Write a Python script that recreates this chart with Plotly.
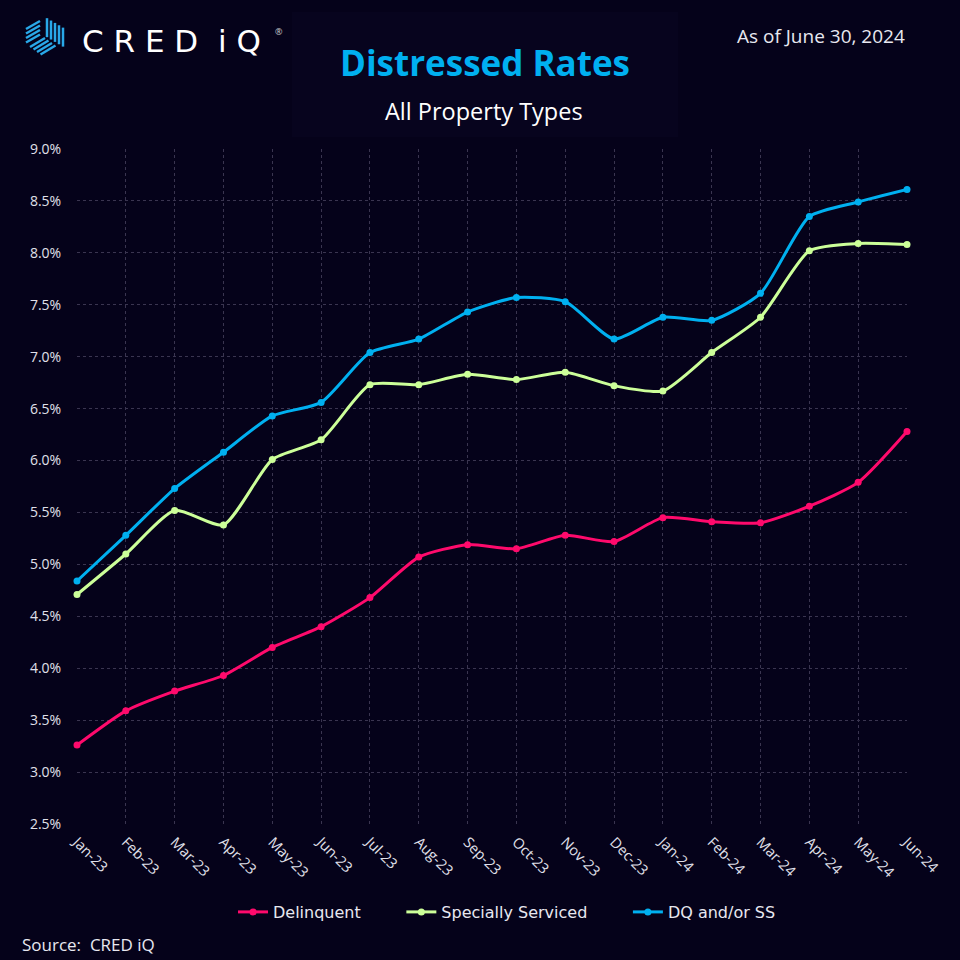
import plotly.graph_objects as go

months = ["Jan-23", "Feb-23", "Mar-23", "Apr-23", "May-23", "Jun-23", "Jul-23", "Aug-23", "Sep-23",
          "Oct-23", "Nov-23", "Dec-23", "Jan-24", "Feb-24", "Mar-24", "Apr-24", "May-24", "Jun-24"]
delinquent = [3.26, 3.59, 3.78, 3.93, 4.20, 4.40, 4.68, 5.07, 5.19, 5.15, 5.28, 5.22, 5.45, 5.41, 5.40, 5.56, 5.79, 6.28]
specially_serviced = [4.71, 5.10, 5.52, 5.38, 6.01, 6.20, 6.73, 6.73, 6.83, 6.78, 6.85, 6.72, 6.67, 7.04, 7.38, 8.02, 8.09, 8.08]
dq_or_ss = [4.84, 5.28, 5.73, 6.08, 6.43, 6.56, 7.04, 7.17, 7.43, 7.57, 7.53, 7.17, 7.38, 7.35, 7.61, 8.35, 8.49, 8.61]
y_ticks = [2.5, 3.0, 3.5, 4.0, 4.5, 5.0, 5.5, 6.0, 6.5, 7.0, 7.5, 8.0, 8.5, 9.0]

BG = "#05021a"
GRID = "#3a3550"
x_idx = list(range(len(months)))

series = [
    ("Delinquent", delinquent, "#ff0a6c"),
    ("Specially Serviced", specially_serviced, "#ccff99"),
    ("DQ and/or SS", dq_or_ss, "#00b0f0"),
]
PAD = "&nbsp;" * 7

# plot area in pixels
L, R, T, B = 77, 907, 149, 824

fig = go.Figure()
for i, (name, vals, col) in enumerate(series):
    fig.add_trace(go.Scatter(
        x=x_idx, y=vals, name=name + (PAD if i < len(series) - 1 else ""), mode="lines+markers",
        line=dict(color=col, width=3, shape="spline", smoothing=0.6),
        marker=dict(color=col, size=7),
        cliponaxis=False,
    ))

fig.update_layout(
    width=960, height=960,
    paper_bgcolor=BG, plot_bgcolor=BG,
    margin=dict(l=L, r=960 - R, t=T, b=960 - B),
    font=dict(family="Open Sans, sans-serif", color="#e8e8f0"),
    showlegend=True,
    legend=dict(orientation="h", x=(507 - L) / (R - L), xanchor="center",
                y=(B - 912) / (B - T), yanchor="middle",
                font=dict(size=16, color="#e8e8f0", family="DejaVu Sans, sans-serif"),
                bgcolor="rgba(0,0,0,0)"),
    xaxis=dict(
        range=[0, len(months) - 1], tickmode="array", tickvals=x_idx, ticktext=months,
        tickangle=45, tickfont=dict(size=14.5, color="#e0e0ea"),
        showgrid=True, gridcolor=GRID, griddash="3px,3px", gridwidth=1,
        zeroline=False, showline=False, ticks="outside", ticklen=3, tickcolor=BG,
    ),
    yaxis=dict(
        range=[2.5, 9.0], tickmode="array", tickvals=y_ticks,
        ticktext=[f"{v:.1f}%" for v in y_ticks],
        tickfont=dict(size=14, color="#e0e0ea"),
        showgrid=True, gridcolor=GRID, griddash="3px,3px", gridwidth=1,
        zeroline=False, showline=False, ticks="outside", ticklen=12, tickcolor=BG,
    ),
)


def px(xp):
    return (xp - L) / float(R - L)


def py(yp):
    return (B - yp) / float(B - T)


# subtle header panel behind title
fig.add_shape(type="rect", xref="paper", yref="paper", x0=px(292), x1=px(678), y0=py(137), y1=py(12),
              fillcolor="#07041e", line=dict(width=0), layer="below")

# title and subtitle
fig.add_annotation(text="<b>Distressed Rates</b>", xref="paper", yref="paper", x=px(485), y=py(62),
                   showarrow=False, font=dict(size=35, color="#00b0f0", family="Open Sans, sans-serif"),
                   xanchor="center", yanchor="middle")
fig.add_annotation(text="All Property Types", xref="paper", yref="paper", x=px(484), y=py(111),
                   showarrow=False, font=dict(size=23.5, color="#ffffff", family="Open Sans, sans-serif"),
                   xanchor="center", yanchor="middle")
fig.add_annotation(text="As of June 30, 2024", xref="paper", yref="paper", x=px(907), y=py(36),
                   showarrow=False, font=dict(size=19, color="#e8e8f0", family="Open Sans, sans-serif"),
                   xanchor="right", yanchor="middle")
fig.add_annotation(text="Source:  CRED iQ", xref="paper", yref="paper", x=px(20), y=py(944),
                   showarrow=False, font=dict(size=17, color="#e8e8f0", family="Open Sans, sans-serif"),
                   xanchor="left", yanchor="middle")

# logo text
fig.add_annotation(text="C R E D  i Q", xref="paper", yref="paper", x=px(80), y=py(41),
                   showarrow=False, font=dict(size=31, color="#ffffff", family="DejaVu Sans, sans-serif"),
                   xanchor="left", yanchor="middle")
fig.add_annotation(text="®", xref="paper", yref="paper", x=px(273), y=py(31),
                   showarrow=False, font=dict(size=9, color="#cccccc"),
                   xanchor="left", yanchor="middle")

# logo icon: striped cube
stripes = []
for i in range(5):
    x = 47 + i * 4
    yt = 17 + (x - 45) * 0.59
    stripes.append(((x, yt), (x, yt + 19)))
for i in range(4):
    y0 = 29 + i * 4.5
    stripes.append(((26, y0), (40, y0 - 8)))
for i in range(4):
    x0 = 30 + i * 3.5
    y0 = 47 + i * 2.5
    stripes.append(((x0, y0), (x0 + 15, y0 + 9 - 18)))
for (x0, y0), (x1, y1) in stripes:
    fig.add_shape(type="line", xref="paper", yref="paper",
                  x0=px(x0), y0=py(y0), x1=px(x1), y1=py(y1),
                  line=dict(color="#29a8e8", width=2.5))

fig.write_html("out.html", config={"displayModeBar": False},
               post_script="document.body.style.margin='0';document.body.style.background='" + BG + "';")
